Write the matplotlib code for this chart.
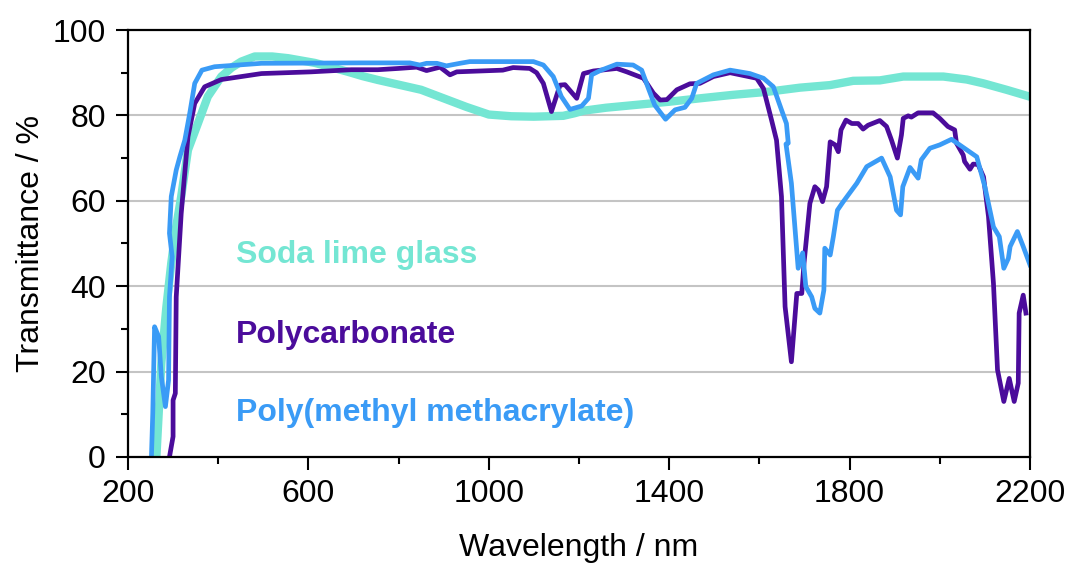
import matplotlib
matplotlib.use('Agg')
import matplotlib.pyplot as plt

plt.rcParams['font.family'] = ['Liberation Sans', 'DejaVu Sans']

# soda lime glass
glass_wl = [263, 268, 274, 285, 296, 307, 318, 333, 355, 377, 407, 430, 451, 481,
            520, 555, 614, 650, 688, 720, 754, 800, 850, 900, 950, 1000, 1050,
            1100, 1165, 1190, 1210, 1260, 1320, 1400, 1468, 1540, 1616, 1690,
            1757, 1808, 1867, 1919, 2008, 2060, 2097, 2148, 2196]
glass_t = [0, 10, 22, 35, 45.4, 54, 61, 71.9, 78.1, 84.4, 89.1, 91.2, 92.6, 93.8,
           93.8, 93.4, 92.3, 91.3, 90.2, 89.2, 88.3, 87.2, 86, 84, 82, 80.2, 79.8,
           79.7, 79.9, 80.5, 81.1, 81.8, 82.4, 83.2, 84, 84.8, 85.5, 86.5,
           87.1, 88.1, 88.2, 89.1, 89.1, 88.4, 87.5, 86, 84.5]

# polycarbonate
pc_wl = [292, 300, 300, 305, 307, 318, 333, 348, 370, 407, 496, 606, 695, 754,
         800, 840, 862, 892, 914, 929, 1031, 1054, 1091, 1106, 1121, 1139, 1158,
         1169, 1195, 1210, 1232, 1284, 1306, 1343, 1365, 1380, 1395, 1417, 1446,
         1468, 1498, 1535, 1594, 1609, 1627, 1638, 1649, 1657, 1671, 1683, 1694,
         1699, 1712, 1723, 1731, 1740, 1749, 1757, 1768, 1775, 1781, 1792, 1805,
         1819, 1830, 1841, 1867, 1882, 1893, 1906, 1915, 1919, 1930, 1937, 1952,
         1985, 2000, 2018, 2033, 2037, 2052, 2055, 2067, 2074, 2085, 2097, 2108,
         2119, 2128, 2142, 2154, 2165, 2174, 2176, 2185, 2191]
pc_t = [0, 4.8, 13.3, 14.9, 37.5, 57, 75, 82.8, 86.7, 88.4, 89.8, 90.2, 90.7, 90.7,
        91.0, 91.3, 90.5, 91.3, 89.5, 90.2, 90.6, 91.2, 91.0, 90.0, 87.5, 80.9, 87.1,
        87.2, 84.0, 89.8, 90.4, 91.0, 90.2, 88.7, 85.2, 83.6, 83.7, 86.0, 87.4,
        87.5, 89.1, 90.0, 88.7, 86.3, 78.9, 74.2, 61, 35.2, 22.3, 38.3, 38.3,
        45.4, 59.4, 63.3, 62.5, 59.8, 63.3, 73.8, 73.1, 71.5, 76.6, 78.9, 78.1,
        78.1, 76.8, 77.7, 78.8, 77.4, 74.2, 70, 75.4, 79.3, 79.9, 79.6, 80.6,
        80.6, 79.3, 77.4, 76.6, 73.5, 70.7, 69.2, 67.4, 68.6, 68.5, 65.6, 56.3,
        40.7, 20.4, 13, 18.4, 13, 17.3, 33.7, 37.9, 33.7]

# poly(methyl methacrylate)
pmma_wl = [252, 255, 259, 268, 274, 283, 290, 292, 298, 292, 296, 307, 315, 326,
           337, 348, 364, 392, 496, 714, 825, 847, 862, 885, 906, 936, 958, 1099,
           1121, 1143, 1161, 1180, 1206, 1221, 1228, 1247, 1284, 1320, 1339, 1354,
           1368, 1392, 1413, 1435, 1450, 1461, 1498, 1535, 1579, 1609, 1631, 1649,
           1660, 1664, 1659, 1671, 1686, 1696, 1703, 1716, 1723, 1734, 1743, 1745,
           1757, 1764, 1773, 1786, 1816, 1838, 1871, 1890, 1904, 1913, 1918, 1934,
           1952, 1959, 1978, 2000, 2026, 2052, 2082, 2100, 2119, 2132, 2142, 2152,
           2156, 2172, 2185, 2200]
pmma_t = [0, 10.3, 30.5, 28.2, 18.8, 11.8, 18, 37.5, 46.9, 52.4, 61, 67.2, 70.3, 74.2,
          80.5, 87.5, 90.6, 91.4, 92.2, 92.3, 92.3, 91.8, 92.2, 92.2, 91.6, 92.2, 92.6, 92.6,
          91.8, 89.1, 84.4, 81.4, 82.2, 84.0, 89.5, 90.5, 92.0, 91.8, 90.6, 86.3,
          82.4, 79.1, 81.3, 81.9, 84.0, 87.5, 89.5, 90.6, 89.8, 88.7, 86.7, 81.3,
          78.1, 73.5, 73.3, 64.1, 44.2, 47.8, 39.9, 37.5, 34.8, 33.7, 39.1, 48.9,
          47.3, 51.6, 57.8, 59.8, 64.1, 68, 70, 65.6, 57.8, 56.7, 63.3, 67.8,
          65.3, 69.6, 72.3, 73.1, 74.4, 72.5, 70.3, 63.3, 53.9, 51.6, 44.2, 46.5,
          49.3, 52.8, 49.3, 45]

x_major = [200, 600, 1000, 1400, 1800, 2200]
x_minor = [400, 800, 1200, 1600, 2000]
y_major = [0, 20, 40, 60, 80, 100]
y_minor = [10, 30, 50, 70, 90]

c_glass = '#74E6D3'
c_pc = '#4B0C9B'
c_pmma = '#3A9BF6'

fig = plt.figure(figsize=(10.7, 5.63), dpi=100)
ax = fig.add_axes([0.1196, 0.1883, 0.843, 0.7584])

ax.plot(glass_wl, glass_t, color=c_glass, lw=6, solid_joinstyle='round', zorder=3)
ax.plot(pc_wl, pc_t, color=c_pc, lw=3.4, solid_joinstyle='round', zorder=4)
ax.plot(pmma_wl, pmma_t, color=c_pmma, lw=3.4, solid_joinstyle='round', zorder=5)

ax.text(440, 47.3, 'Soda lime glass', color=c_glass, fontsize=23, fontweight='bold', va='center')
ax.text(440, 28.6, 'Polycarbonate', color=c_pc, fontsize=23, fontweight='bold', va='center')
ax.text(440, 10.3, 'Poly(methyl methacrylate)', color=c_pmma, fontsize=23, fontweight='bold', va='center')

ax.set_xlim(200, 2200)
ax.set_ylim(0, 100)
ax.set_xticks(x_major)
ax.set_xticks(x_minor, minor=True)
ax.set_yticks(y_major)
ax.set_yticks(y_minor, minor=True)

for y in y_major[1:-1]:
    ax.axhline(y, color='#C4C4C4', lw=1.5, zorder=1)

for s in ax.spines.values():
    s.set_linewidth(1.6)
    s.set_zorder(6)
ax.tick_params(which='major', direction='out', length=9, width=1.5, labelsize=23, pad=7)
ax.tick_params(which='minor', direction='out', length=5, width=1.5)
ax.tick_params(top=False, right=False)

ax.set_xlabel('Wavelength / nm', fontsize=23, labelpad=17)
ax.set_ylabel('Transmittance / %', fontsize=23, labelpad=5)

fig.savefig('out.png', dpi=100)
